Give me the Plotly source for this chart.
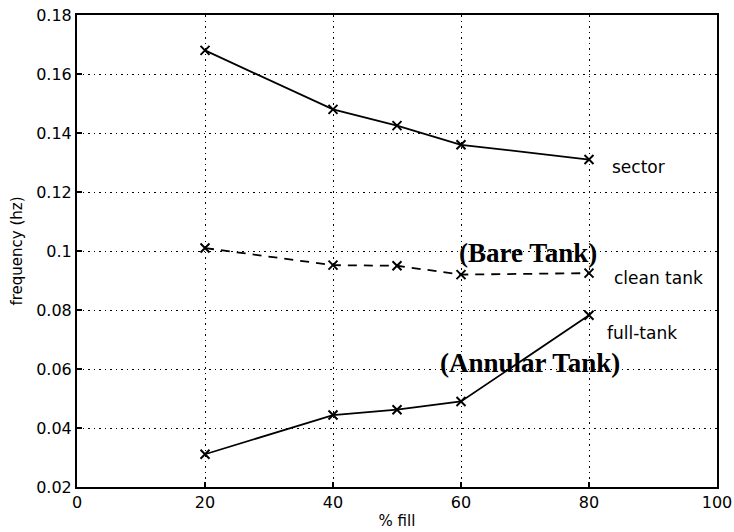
import plotly.graph_objects as go

# % fill for each measurement
fill = [20, 40, 50, 60, 80]

# natural frequencies (hz)
sector = [0.168, 0.148, 0.1425, 0.136, 0.131]
clean_tank = [0.101, 0.0952, 0.095, 0.092, 0.0925]
full_tank = [0.0311, 0.0444, 0.0462, 0.049, 0.0782]

x_ticks = [0, 20, 40, 60, 80, 100]
y_ticks = [0.02, 0.04, 0.06, 0.08, 0.1, 0.12, 0.14, 0.16, 0.18]
y_tick_text = ["0.02", "0.04", "0.06", "0.08", "0.1", "0.12", "0.14", "0.16", "0.18"]

SANS = "DejaVu Sans, Verdana, sans-serif"
SERIF = "Liberation Serif, Times New Roman, serif"

fig = go.Figure()

line_style = dict(color="black", width=1.8)
marker_style = dict(symbol="x-thin", size=9, line=dict(color="black", width=2), color="black")

fig.add_trace(go.Scatter(x=fill, y=sector, mode="lines+markers", line=line_style,
                         marker=marker_style, name="sector"))
fig.add_trace(go.Scatter(x=fill, y=clean_tank, mode="lines+markers",
                         line=dict(color="black", width=1.8, dash="9px,7px"),
                         marker=marker_style, name="clean tank"))
fig.add_trace(go.Scatter(x=fill, y=full_tank, mode="lines+markers", line=line_style,
                         marker=marker_style, name="full-tank"))

label_font = dict(family=SANS, size=17, color="black")
serif_font = dict(family=SERIF, size=27, color="black")

annotations = [
    dict(x=83.3, y=0.1285, text="sector", xanchor="left", font=label_font),
    dict(x=83.6, y=0.0908, text="clean tank", xanchor="left", font=label_font),
    dict(x=82.5, y=0.0722, text="full-tank", xanchor="left", font=label_font),
    dict(x=70.5, y=0.0993, text="<b>(Bare Tank)</b>", xanchor="center", font=serif_font),
    dict(x=70.8, y=0.062, text="<b>(Annular Tank)</b>", xanchor="center", font=serif_font),
]
for a in annotations:
    a.update(xref="x", yref="y", showarrow=False, yanchor="middle")

axis_common = dict(
    showline=True, linecolor="black", linewidth=2, mirror=True,
    showgrid=True, gridcolor="black", gridwidth=1, griddash="1.5px,4px",
    ticks="inside", ticklen=5, tickcolor="black", tickwidth=1.5,
    zeroline=False, automargin=False,
    tickfont=dict(family=SANS, size=16, color="black"),
)

fig.update_layout(
    width=734, height=532,
    margin=dict(l=77, r=17, t=15, b=45),
    paper_bgcolor="white", plot_bgcolor="white",
    showlegend=False,
    annotations=annotations,
    xaxis=dict(range=[0, 100], tickvals=x_ticks, ticktext=[str(v) for v in x_ticks],
               title=dict(text="% fill", standoff=4,
                          font=dict(family=SANS, size=15, color="black")),
               **axis_common),
    yaxis=dict(range=[0.02, 0.18], tickvals=y_ticks, ticktext=y_tick_text,
               title=dict(text="frequency (hz)", standoff=10,
                          font=dict(family=SANS, size=15, color="black")),
               **axis_common),
)

fig.write_html("out.html")
